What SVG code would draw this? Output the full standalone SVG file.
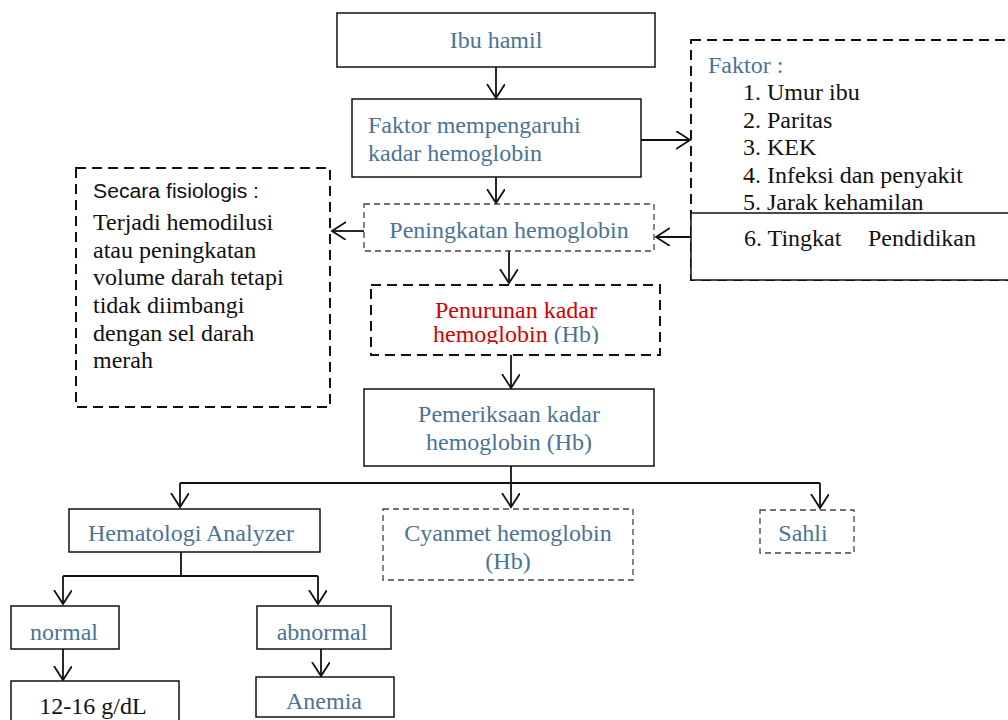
<svg xmlns="http://www.w3.org/2000/svg" width="1008" height="720" viewBox="0 0 1008 720">
<style>
text{font-family:"Liberation Serif","Times New Roman",serif;font-size:24px}
.b{fill:#4a7396}
.k{fill:#111}
.r{fill:#d40000}
.s{fill:#fff;stroke:#111;stroke-width:1.5}
.d1{fill:#fff;stroke:#111;stroke-width:2;stroke-dasharray:10 6}
.d2{fill:#fff;stroke:#444;stroke-width:1.3;stroke-dasharray:6 4}
.c{fill:none;stroke:#111;stroke-width:1.8}
.m{text-anchor:middle}
</style>
<defs>
<marker id="a" markerUnits="userSpaceOnUse" markerWidth="16" markerHeight="20" refX="14" refY="9" orient="auto">
<path d="M0,0 L14,9 L0,18" fill="none" stroke="#111" stroke-width="1.8"/>
</marker>
<clipPath id="cp"><rect x="371" y="285" width="290" height="59"/></clipPath>
</defs>

<g id="n-faktor-list">
<rect class="d1" x="691" y="40" width="330" height="240"/>
<text class="b" x="708" y="73">Faktor :</text>
<text class="k" x="743" y="100">1. Umur ibu</text>
<text class="k" x="743" y="128">2. Paritas</text>
<text class="k" x="743" y="155">3. KEK</text>
<text class="k" x="743" y="183">4. Infeksi dan penyakit</text>
<text class="k" x="743" y="210">5. Jarak kehamilan</text>
</g>
<g id="n-pendidikan">
<rect class="s" x="691" y="213" width="330" height="67"/>
<text class="k" x="744" y="246">6. Tingkat</text>
<text class="k" x="868" y="246">Pendidikan</text>
</g>

<g id="connectors">
<line class="c" x1="496" y1="67" x2="496" y2="98" marker-end="url(#a)"/>
<line class="c" x1="641" y1="140" x2="690" y2="140" marker-end="url(#a)"/>
<line class="c" x1="496" y1="177" x2="496" y2="203" marker-end="url(#a)"/>
<line class="c" x1="691" y1="237" x2="656" y2="237" marker-end="url(#a)"/>
<line class="c" x1="364" y1="231" x2="332" y2="231" marker-end="url(#a)"/>
<line class="c" x1="509" y1="251" x2="509" y2="283" marker-end="url(#a)"/>
<line class="c" x1="511" y1="355" x2="511" y2="388" marker-end="url(#a)"/>
<polyline class="c" points="511,466 511,483"/>
<polyline class="c" points="180,483 820,483"/>
<line class="c" x1="180" y1="483" x2="180" y2="507" marker-end="url(#a)"/>
<line class="c" x1="511" y1="483" x2="511" y2="507" marker-end="url(#a)"/>
<line class="c" x1="820" y1="483" x2="820" y2="508" marker-end="url(#a)"/>
<polyline class="c" points="181,552 181,576"/>
<polyline class="c" points="63,576 318,576"/>
<line class="c" x1="63" y1="576" x2="63" y2="604" marker-end="url(#a)"/>
<line class="c" x1="318" y1="576" x2="318" y2="604" marker-end="url(#a)"/>
<line class="c" x1="63" y1="649" x2="63" y2="680" marker-end="url(#a)"/>
<line class="c" x1="321" y1="649" x2="321" y2="676" marker-end="url(#a)"/>
</g>

<g id="n-ibu">
<rect class="s" x="337" y="13" width="318" height="54"/>
<text class="b m" x="496" y="48">Ibu hamil</text>
</g>
<g id="n-faktor">
<rect class="s" x="352" y="99" width="289" height="78"/>
<text class="b" x="368" y="133">Faktor mempengaruhi</text>
<text class="b" x="368" y="161">kadar hemoglobin</text>
</g>
<g id="n-fisiologis">
<rect class="d1" x="76" y="168" width="254" height="239"/>
<text class="k" x="93" y="198" style="font-family:'Liberation Sans',Arial,sans-serif;font-size:20px" textLength="166" lengthAdjust="spacingAndGlyphs">Secara fisiologis :</text>
<text class="k" x="93" y="230">Terjadi hemodilusi</text>
<text class="k" x="93" y="258">atau peningkatan</text>
<text class="k" x="93" y="285">volume darah tetapi</text>
<text class="k" x="93" y="313">tidak diimbangi</text>
<text class="k" x="93" y="341">dengan sel darah</text>
<text class="k" x="93" y="368">merah</text>
</g>
<g id="n-peningkatan">
<rect class="d2" x="364" y="204" width="290" height="47"/>
<text class="b m" x="509" y="238">Peningkatan hemoglobin</text>
</g>
<g id="n-penurunan">
<rect class="d1" x="371" y="285" width="289" height="70"/>
<text class="r m" x="516" y="318">Penurunan kadar</text>
<text class="m" x="516" y="342" clip-path="url(#cp)"><tspan class="r">hemoglobin </tspan><tspan class="b">(Hb)</tspan></text>
</g>
<g id="n-pemeriksaan">
<rect class="s" x="364" y="389" width="290" height="77"/>
<text class="b m" x="509" y="422">Pemeriksaan kadar</text>
<text class="b m" x="509" y="450">hemoglobin (Hb)</text>
</g>
<g id="n-hematologi">
<rect class="s" x="69" y="509" width="251" height="43"/>
<text class="b m" x="191" y="541">Hematologi Analyzer</text>
</g>
<g id="n-cyanmet">
<rect class="d2" x="383" y="509" width="250" height="71"/>
<text class="b m" x="508" y="541">Cyanmet hemoglobin</text>
<text class="b m" x="508" y="569">(Hb)</text>
</g>
<g id="n-sahli">
<rect class="d2" x="760" y="510" width="94" height="43"/>
<text class="b m" x="803" y="541">Sahli</text>
</g>
<g id="n-normal">
<rect class="s" x="11" y="606" width="108" height="43"/>
<text class="b m" x="64" y="640">normal</text>
</g>
<g id="n-abnormal">
<rect class="s" x="257" y="606" width="134" height="43"/>
<text class="b m" x="322" y="640">abnormal</text>
</g>
<g id="n-range">
<rect class="s" x="11" y="681" width="168" height="45"/>
<text class="k m" x="93" y="714">12-16 g/dL</text>
</g>
<g id="n-anemia">
<rect class="s" x="256" y="677" width="138" height="40"/>
<text class="b m" x="324" y="709">Anemia</text>
</g>
</svg>
